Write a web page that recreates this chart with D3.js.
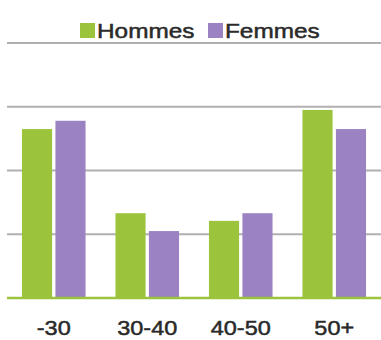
<!DOCTYPE html>
<html>
<head>
<meta charset="utf-8">
<script src="https://cdn.jsdelivr.net/npm/d3@7"></script>
<style>
  html, body { margin: 0; padding: 0; background: #fff; }
  svg { display: block; }
</style>
</head>
<body>
<svg id="chart" width="381" height="340"></svg>
<script>

// data (percent, gridline every 10)
var categories = ["-30", "30-40", "40-50", "50+"];
var series = ["Hommes", "Femmes"];
var hommes = [26.5, 13.3, 12.1, 29.5];
var femmes = [27.8, 10.5, 13.3, 26.5];
var gridTicks = [10, 20, 30, 40];

var colours = { Hommes: "#9bc43c", Femmes: "#9b82c3" };
var fontFamily = "Liberation Sans, Arial, Helvetica, sans-serif";

var svg = d3.select("#chart");

var x = d3.scaleBand()
  .domain(categories)
  .range([7, 381])
  .paddingInner(0.32)
  .paddingOuter(0.16);

var xs = d3.scaleBand()
  .domain(series)
  .range([0, x.bandwidth()])
  .paddingInner(0.1);

var y = d3.scaleLinear()
  .domain([0, 40])
  .range([298, 43]);


// gridlines
svg.append("g")
  .selectAll("line")
  .data(gridTicks)
  .enter().append("line")
    .attr("x1", 7)
    .attr("x2", 381)
    .attr("y1", function(d){ return y(d); })
    .attr("y2", function(d){ return y(d); })
    .attr("stroke", "#b0b0b0")
    .attr("stroke-width", 2);


// bars
var rows = categories.map(function(c, i){
  return { cat: c, values: [ { s: "Hommes", v: hommes[i] }, { s: "Femmes", v: femmes[i] } ] };
});

var groups = svg.append("g")
  .selectAll("g")
  .data(rows)
  .enter().append("g")
    .attr("transform", function(d){ return "translate(" + x(d.cat) + ",0)"; });

groups.selectAll("rect")
  .data(function(d){ return d.values; })
  .enter().append("rect")
    .attr("x", function(d){ return xs(d.s); })
    .attr("width", xs.bandwidth())
    .attr("y", function(d){ return y(d.v); })
    .attr("height", function(d){ return y(0) - y(d.v); })
    .attr("fill", function(d){ return colours[d.s]; });


// baseline (green)
svg.append("line")
  .attr("x1", 7)
  .attr("x2", 381)
  .attr("y1", y(0))
  .attr("y2", y(0))
  .attr("stroke", "#9bc43c")
  .attr("stroke-width", 2.5);


// x labels, slightly stretched like the picture
svg.append("g")
  .selectAll("text")
  .data(categories)
  .enter().append("text")
    .attr("transform", function(d){
      return "translate(" + (x(d) + x.bandwidth() / 2) + ",335) scale(1.12,1)";
    })
    .attr("text-anchor", "middle")
    .attr("font-family", fontFamily)
    .attr("font-size", 21)
    .attr("fill", "#2a2a2a")
    .attr("stroke", "#2a2a2a")
    .attr("stroke-width", 0.5)
    .text(function(d){ return d; });


// legend
var legendX = [80, 208];

var legend = svg.append("g")
  .selectAll("g")
  .data(series)
  .enter().append("g")
    .attr("transform", function(d, i){ return "translate(" + legendX[i] + ",23)"; });

legend.append("rect")
  .attr("width", 15)
  .attr("height", 15)
  .attr("fill", function(d){ return colours[d]; });

legend.append("text")
  .attr("transform", "translate(17,15) scale(1.16,1)")
  .attr("font-family", fontFamily)
  .attr("font-size", 21)
  .attr("fill", "#2a2a2a")
  .attr("stroke", "#2a2a2a")
  .attr("stroke-width", 0.5)
  .text(function(d){ return d; });

</script>
</body>
</html>
